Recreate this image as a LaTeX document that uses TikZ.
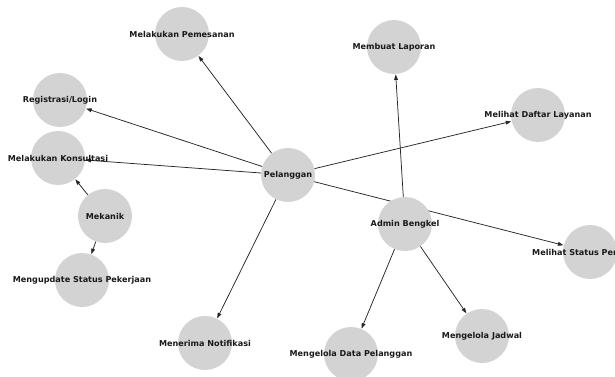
\documentclass[tikz,border=0pt]{standalone}
\usepackage{fontspec}
\setmainfont{DejaVu Sans}
\usetikzlibrary{arrows.meta,backgrounds}
\tikzset{
  uc/.style={circle,fill={rgb,255:red,211;green,211;blue,211},draw=none,minimum size=54pt,inner sep=0pt,
    label={[font=\fontsize{8.1}{9}\selectfont\bfseries,text=black!90]center:#1}},
  conn/.style={draw=black!85,line width=0.75pt,-{Triangle[length=5.5pt,width=3.8pt]},shorten >=0.3pt}
}
\begin{document}
\begin{tikzpicture}[x=1pt,y=-1pt]
\useasboundingbox (0,0) rectangle (615,377);
\clip (0,0) rectangle (615,377);
\node[uc={Melakukan Pemesanan}] (pes) at (182,34) {};
\node[uc={Membuat Laporan}] (lap) at (394,47) {};
\node[uc={Registrasi/Login}] (reg) at (60,100) {};
\node[uc={Melihat Daftar Layanan}] (lay) at (538,115) {};
\node[uc={Melakukan Konsultasi}] (kon) at (58,158) {};
\node[uc={Pelanggan}] (pel) at (288,175) {};
\node[uc={Mekanik}] (mek) at (105,216) {};
\node[uc={Admin Bengkel}] (adm) at (405,224) {};
\node[uc={Melihat Status Perbaikan}] (sta) at (590,252) {};
\node[uc={Mengupdate Status Pekerjaan}] (upd) at (82,280) {};
\node[uc={Mengelola Jadwal}] (jad) at (482,336) {};
\node[uc={Mengelola Data Pelanggan}] (dat) at (351,354) {};
\node[uc={Menerima Notifikasi}] (not) at (205,343) {};
\begin{scope}[on background layer]
\draw[conn] (pel) -- (pes);
\draw[conn] (pel) -- (reg);
\draw[conn] (pel) -- (kon);
\draw[conn] (pel) -- (lay);
\draw[conn] (pel) -- (not);
\draw[conn] (pel.center) -- (sta);
\draw[conn] (adm) -- (lap);
\draw[conn] (adm) -- (dat);
\draw[conn] (adm) -- (jad);
\draw[conn] (mek) -- (kon);
\draw[conn] (mek) -- (upd);
\end{scope}
\end{tikzpicture}
\end{document}
